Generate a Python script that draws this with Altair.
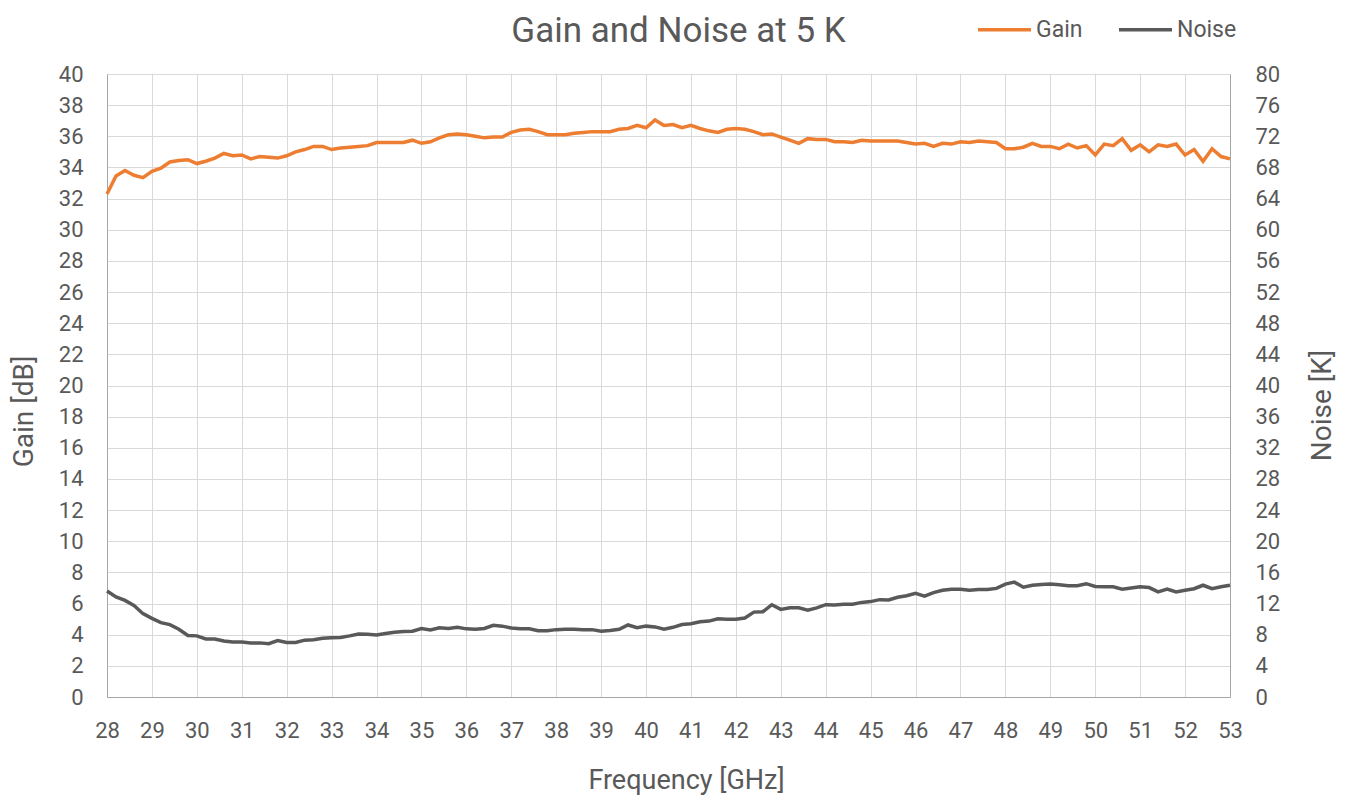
import altair as alt
import pandas as pd

# Frequency grid (GHz), one sample every 0.2 GHz from 28 to 53
freq = [round(28 + 0.2 * i, 1) for i in range(126)]

gain_db = [
    32.3, 33.45, 33.8, 33.5, 33.35, 33.75, 33.95, 34.35, 34.45, 34.5,
    34.25, 34.4, 34.6, 34.9, 34.75, 34.8, 34.55, 34.7, 34.65, 34.6,
    34.75, 35.0, 35.15, 35.35, 35.35, 35.15, 35.25, 35.3, 35.35, 35.4,
    35.6, 35.6, 35.6, 35.6, 35.75, 35.55, 35.65, 35.9, 36.1, 36.15,
    36.1, 36.0, 35.9, 35.95, 35.95, 36.25, 36.4, 36.45, 36.3, 36.1,
    36.1, 36.1, 36.2, 36.25, 36.3, 36.3, 36.3, 36.45, 36.5, 36.7,
    36.55, 37.05, 36.7, 36.75, 36.55, 36.7, 36.5, 36.35, 36.25, 36.45,
    36.5, 36.45, 36.3, 36.1, 36.15, 35.95, 35.75, 35.55, 35.85, 35.8,
    35.8, 35.65, 35.65, 35.6, 35.75, 35.7, 35.7, 35.7, 35.7, 35.6,
    35.5, 35.55, 35.35, 35.55, 35.5, 35.65, 35.6, 35.7, 35.65, 35.6,
    35.2, 35.2, 35.3, 35.55, 35.35, 35.35, 35.2, 35.5, 35.25, 35.4,
    34.8, 35.5, 35.4, 35.85, 35.1, 35.45, 35.0, 35.45, 35.35, 35.5,
    34.8, 35.15, 34.4, 35.2, 34.7, 34.55,
]

noise_k = [
    13.6, 12.85, 12.4, 11.75, 10.7, 10.1, 9.55, 9.3, 8.7, 7.9,
    7.85, 7.45, 7.45, 7.2, 7.05, 7.05, 6.95, 6.95, 6.85, 7.25,
    7.0, 7.0, 7.3, 7.35, 7.55, 7.6, 7.65, 7.85, 8.1, 8.05,
    7.95, 8.15, 8.3, 8.4, 8.45, 8.8, 8.6, 8.9, 8.8, 8.95,
    8.75, 8.7, 8.8, 9.2, 9.1, 8.85, 8.75, 8.75, 8.5, 8.5,
    8.65, 8.7, 8.7, 8.65, 8.65, 8.45, 8.55, 8.7, 9.25, 8.9,
    9.1, 9.0, 8.7, 8.95, 9.3, 9.4, 9.65, 9.75, 10.05, 10.0,
    10.0, 10.15, 10.9, 10.95, 11.85, 11.25, 11.45, 11.45, 11.15, 11.45,
    11.85, 11.8, 11.9, 11.9, 12.15, 12.25, 12.5, 12.45, 12.8, 13.0,
    13.3, 12.95, 13.4, 13.7, 13.85, 13.85, 13.7, 13.8, 13.8, 13.95,
    14.5, 14.75, 14.1, 14.35, 14.45, 14.5, 14.4, 14.3, 14.3, 14.55,
    14.2, 14.15, 14.15, 13.85, 14.0, 14.15, 14.05, 13.5, 13.85, 13.5,
    13.7, 13.9, 14.35, 13.9, 14.15, 14.35,
]

x_ticks = list(range(28, 54))
gain_ticks = list(range(0, 41, 2))
noise_ticks = list(range(0, 81, 4))
series_names = ["Gain", "Noise"]
series_colors = ["#ED7D31", "#595959"]

df = pd.concat([
    pd.DataFrame({"freq": freq, "value": gain_db, "series": "Gain"}),
    pd.DataFrame({"freq": freq, "value": noise_k, "series": "Noise"}),
])

FONT = "Roboto"
TXT = "#595959"

x_enc = alt.X(
    "freq:Q",
    scale=alt.Scale(domain=[28, 53], nice=False, zero=False),
    axis=alt.Axis(
        values=x_ticks, title="Frequency [GHz]", grid=True, gridColor="#d9d9d9",
        domainColor="#a6a6a6", ticks=False, labelPadding=23, titlePadding=26,
        labelFontSize=22, titleFontSize=27, labelFlush=False,
        titleX=579, titleAlign="center",
    ),
)

color_enc = alt.Color(
    "series:N",
    scale=alt.Scale(domain=series_names, range=series_colors),
    legend=alt.Legend(
        orient="none", legendX=869, legendY=-73, direction="horizontal",
        title=None, symbolType="stroke", symbolSize=2809, symbolStrokeWidth=3.5,
        labelFontSize=23, labelColor=TXT, labelFont=FONT, columnPadding=29,
        labelOffset=3,
    ),
)

base = alt.Chart(df)

gain_line = base.transform_filter(alt.datum.series == "Gain").mark_line(
    strokeWidth=3.5
).encode(
    x=x_enc,
    y=alt.Y(
        "value:Q",
        scale=alt.Scale(domain=[0, 40], nice=False),
        axis=alt.Axis(
            orient="left", values=gain_ticks, title="Gain [dB]", grid=True,
            gridColor="#d9d9d9", domainColor="#a6a6a6", ticks=False,
            labelPadding=24, titlePadding=20, labelFontSize=22, titleFontSize=28,
            labelFlush=False, titleY=337,
        ),
    ),
    color=color_enc,
)

noise_line = base.transform_filter(alt.datum.series == "Noise").mark_line(
    strokeWidth=3.5
).encode(
    x=x_enc,
    y=alt.Y(
        "value:Q",
        scale=alt.Scale(domain=[0, 80], nice=False),
        axis=alt.Axis(
            orient="right", values=noise_ticks, title="Noise [K]", grid=False,
            domainColor="#a6a6a6", ticks=False, labelPadding=25, titlePadding=57,
            labelFontSize=22, titleFontSize=28, titleAngle=270, labelFlush=False,
            titleY=331,
        ),
    ),
    color=color_enc,
)

chart = alt.layer(gain_line, noise_line).resolve_scale(y="independent").properties(
    width=1123,
    height=623,
    autosize=alt.AutoSizeParams(type="none"),
    padding={"left": 99, "top": 66, "right": 116, "bottom": 105},
    title=alt.TitleParams(
        "Gain and Noise at 5 K", fontSize=35, fontWeight="normal", color=TXT,
        font=FONT, anchor="middle", offset=-48, dx=10,
    ),
).configure_axis(
    labelColor=TXT, titleColor=TXT, labelFont=FONT, titleFont=FONT,
    titleFontWeight="normal",
).configure_view(stroke=None)

chart.save("out.html", embed_options={"renderer": "svg", "actions": False})
